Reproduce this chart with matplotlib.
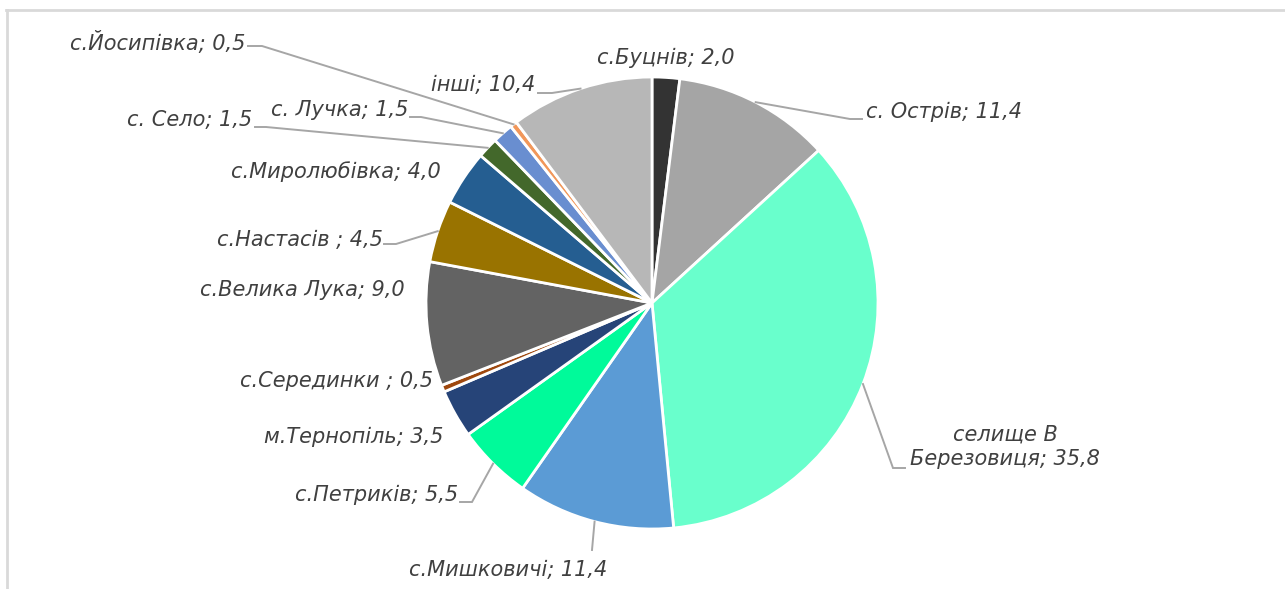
import numpy as np
import matplotlib.pyplot as plt
from matplotlib.lines import Line2D

# дані
villages = ['с.Буцнів', 'с. Острів', 'селище В\nБерезовиця', 'с.Мишковичі', 'с.Петриків',
            'м.Тернопіль', 'с.Серединки ', 'с.Велика Лука', 'с.Настасів ', 'с.Миролюбівка',
            'с. Село', 'с. Лучка', 'с.Йосипівка', 'інші']
shares = [2.0, 11.4, 35.8, 11.4, 5.5, 3.5, 0.5, 9.0, 4.5, 4.0, 1.5, 1.5, 0.5, 10.4]
colors = ['#333333', '#a5a5a5', '#69ffcc', '#5b9bd5', '#00fa9a', '#264478', '#9e480e',
          '#636363', '#997300', '#255e91', '#43682b', '#698ed0', '#f1975a', '#b7b7b7']

W, H = 1285, 589
CX, CY, R = 652, 303, 226

def d(px, py):
    # пікселі -> координати осей (радіус пирога = 1)
    return (px - CX) / R, (CY - py) / R

# розміщення підписів: (x, y), вирівнювання, точки злому лінії або None
layout = [
    ((666, 58), 'center', None),
    ((866, 112), 'left', [(850, 119), (862, 119)]),
    ((1005, 447), 'center', [(893, 468), (905, 468)]),
    ((508, 570), 'center', [(592, 550)]),
    ((458, 495), 'right', [(472, 502), (460, 502)]),
    ((443, 437), 'right', None),
    ((433, 381), 'right', None),
    ((405, 290), 'right', None),
    ((383, 240), 'right', [(396, 244), (384, 244)]),
    ((441, 172), 'right', None),
    ((252, 120), 'right', [(266, 127), (255, 127)]),
    ((408, 110), 'right', [(421, 117), (410, 117)]),
    ((245, 42), 'right', [(262, 46), (248, 46)]),
    ((535, 85), 'right', [(552, 93), (538, 93)]),
]

fig = plt.figure(figsize=(W / 100, H / 100), dpi=100)
ax = fig.add_axes([0, 0, 1, 1])

wedges, _ = ax.pie(shares, colors=colors, startangle=90, counterclock=False,
                   radius=1, center=(0, 0), frame=True,
                   wedgeprops=dict(edgecolor='white', linewidth=2))
ax.set_xlim(-CX / R, (W - CX) / R)
ax.set_ylim(-(H - CY) / R, CY / R)
ax.set_aspect('auto')
ax.axis('off')

total = sum(shares)
cum = 0
for name, v, (pos, ha, elbow) in zip(villages, shares, layout):
    mid = np.deg2rad(90 - 360 * (cum + v / 2) / total)
    cum += v
    label = f"{name}; {str(v).replace('.', ',')}"
    tx, ty = d(*pos)
    ax.text(tx, ty, label, ha=ha, va='center', fontsize=15, style='italic',
            color='#404040', family='DejaVu Sans', linespacing=1.3)
    if elbow:
        pts = [(np.cos(mid), np.sin(mid))] + [d(*p) for p in elbow]
        xs, ys = zip(*pts)
        ax.plot(xs, ys, color='#a6a6a6', lw=1.4, solid_joinstyle='miter')

# рамка
fig.add_artist(Line2D([6 / W, 1], [1 - 10 / H] * 2, color='#d9d9d9', lw=2))
fig.add_artist(Line2D([7 / W] * 2, [0, 1 - 10 / H], color='#d9d9d9', lw=2))

fig.savefig('out.png', dpi=100)
